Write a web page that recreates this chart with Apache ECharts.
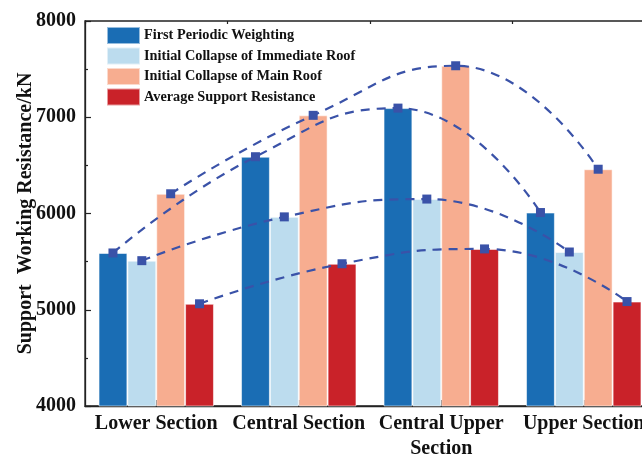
<!DOCTYPE html>
<html>
<head>
<meta charset="utf-8">
<script src="https://cdn.jsdelivr.net/npm/echarts@6/dist/echarts.min.js"></script>
<style>
  html, body { margin: 0; padding: 0; background: #fff; }
  #chart { width: 642px; height: 456px; }
</style>
</head>
<body>
<div id="chart"></div>
<script>
// Mining sections along the working face
const categories = ['Lower Section', 'Central Section', 'Central Upper\nSection', 'Upper Section'];

// Support working resistance (kN) for each loading stage
const firstPeriodicWeighting = [5590, 6590, 7095, 6010];
const collapseImmediateRoof = [5510, 5965, 6150, 5600];
const collapseMainRoof = [6205, 7020, 7535, 6460];
const averageResistance = [5062, 5478, 5632, 5085];

const seriesNames = [
  'First Periodic Weighting',
  'Initial Collapse of Immediate Roof',
  'Initial Collapse of Main Roof',
  'Average Support Resistance'
];
const seriesValues = [firstPeriodicWeighting, collapseImmediateRoof, collapseMainRoof, averageResistance];
const barColors = ['#1a6db4', '#bcdcee', '#f7ad90', '#c92229'];

const yTicks = [4000, 5000, 6000, 7000, 8000];

const FONT = "'Liberation Serif', 'Times New Roman', serif";
const CATEGORY_GAP = 0.19;           // fraction of each band left empty
const barShare = (1 - CATEGORY_GAP) / seriesNames.length;

const barSeries = seriesNames.map((name, s) => ({
  name,
  type: 'bar',
  xAxisIndex: 0,
  barGap: '0%',
  barCategoryGap: (CATEGORY_GAP * 100) + '%',
  data: seriesValues[s],
  itemStyle: { color: barColors[s], borderColor: 'rgba(255,255,255,0.55)', borderWidth: 1 },
  z: 2
}));

// Dashed trend curve through the top of every bar of one stage
const trendSeries = seriesNames.map((name, s) => ({
  name: name + ' trend',
  type: 'line',
  xAxisIndex: 2,
  smooth: 0.5,
  symbol: 'rect',
  symbolSize: 9,
  data: seriesValues[s].map((v, i) => [i + (s - (seriesNames.length - 1) / 2) * barShare, v]),
  itemStyle: { color: '#3a52a8' },
  lineStyle: { color: '#3a52a8', width: 2.2, type: [9, 7] },
  z: 5
}));

const chart = echarts.init(document.getElementById('chart'), null, { renderer: 'canvas' });
chart.setOption({
  animation: false,
  backgroundColor: '#fff',
  grid: {
    left: 85, right: -13, top: 21, bottom: 50,
    containLabel: false,
    outerBoundsMode: 'none',
    show: true, borderColor: '#222', borderWidth: 1.3, backgroundColor: 'transparent'
  },
  legend: {
    data: seriesNames,
    orient: 'vertical',
    left: 106, top: 26,
    padding: 0,
    itemWidth: 33, itemHeight: 17, itemGap: 1.5,
    icon: 'rect',
    textStyle: { fontFamily: FONT, fontWeight: 'bold', fontSize: 14.3, color: '#111', padding: [0, 0, 0, -1] }
  },
  xAxis: [
    {
      type: 'category',
      data: categories,
      axisLine: { onZero: false, lineStyle: { color: '#222', width: 1.3 } },
      axisTick: { show: true, inside: true, alignWithLabel: true, length: 6, lineStyle: { color: '#222', width: 1.2 } },
      axisLabel: {
        margin: 5, fontFamily: FONT, fontWeight: 'bold', fontSize: 20, color: '#111', lineHeight: 25,
        interval: 0
      }
    },
    {
      type: 'category',
      data: categories,
      axisLine: { show: false },
      axisTick: { show: true, inside: true, alignWithLabel: false, length: 3, lineStyle: { color: '#222', width: 1.2 } },
      axisLabel: { show: false }
    },
    {
      type: 'value',
      min: -0.5, max: categories.length - 0.5,
      show: false
    }
  ],
  yAxis: {
    type: 'value',
    min: yTicks[0], max: yTicks[yTicks.length - 1], interval: 1000,
    name: 'Support  Working Resistance/kN',
    nameLocation: 'middle',
    nameGap: 49,
    nameMoveOverlap: false,
    nameTextStyle: { fontFamily: FONT, fontWeight: 'bold', fontSize: 20, color: '#111' },
    axisLine: { show: true, onZero: false, lineStyle: { color: '#222', width: 1.3 } },
    axisTick: { show: true, inside: true, length: 6, lineStyle: { color: '#222', width: 1.2 } },
    minorTick: { show: true, splitNumber: 2, length: 3, lineStyle: { color: '#222', width: 1.2 } },
    splitLine: { show: false },
    axisLabel: {
      margin: 9, fontFamily: FONT, fontWeight: 'bold', fontSize: 20, color: '#111',
      formatter: (v) => String(v)
    }
  },
  series: barSeries.concat(trendSeries)
});
</script>
</body>
</html>
